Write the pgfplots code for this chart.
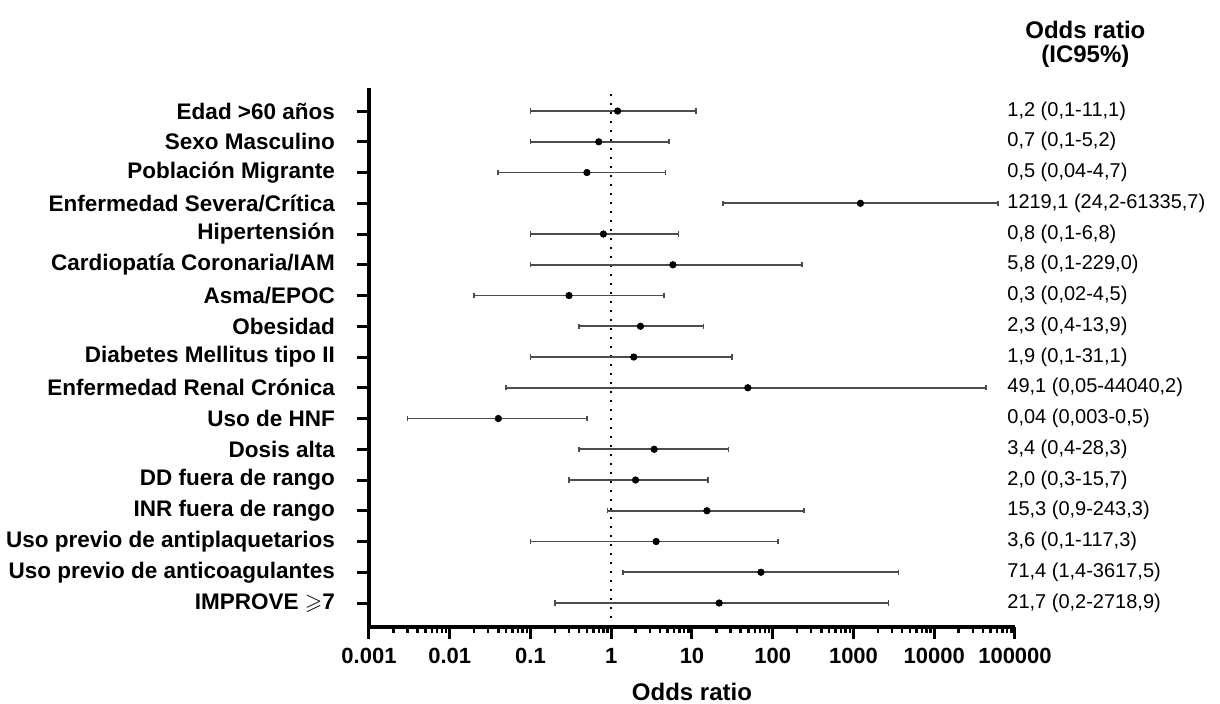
\documentclass[border=0pt]{standalone}
\usepackage{pgfplots}
\usepackage{pgfplotstable}
\usepackage{amssymb}
\usepackage{fontspec}
\setmainfont{Liberation Sans}
\pgfplotsset{compat=1.18}

% row 1 = top of the plot
\pgfplotstableread[col sep=semicolon, row sep=\\]{
row;or;lo;hi;txt\\
1;1.2;0.1;11.1;{1,2 (0,1-11,1)}\\
2;0.7;0.1;5.2;{0,7 (0,1-5,2)}\\
3;0.5;0.04;4.7;{0,5 (0,04-4,7)}\\
4;1219.1;24.2;61335.7;{1219,1 (24,2-61335,7)}\\
5;0.8;0.1;6.8;{0,8 (0,1-6,8)}\\
6;5.8;0.1;229.0;{5,8 (0,1-229,0)}\\
7;0.3;0.02;4.5;{0,3 (0,02-4,5)}\\
8;2.3;0.4;13.9;{2,3 (0,4-13,9)}\\
9;1.9;0.1;31.1;{1,9 (0,1-31,1)}\\
10;49.1;0.05;44040.2;{49,1 (0,05-44040,2)}\\
11;0.04;0.003;0.5;{0,04 (0,003-0,5)}\\
12;3.4;0.4;28.3;{3,4 (0,4-28,3)}\\
13;2.0;0.3;15.7;{2,0 (0,3-15,7)}\\
14;15.3;0.9;243.3;{15,3 (0,9-243,3)}\\
15;3.6;0.1;117.3;{3,6 (0,1-117,3)}\\
16;71.4;1.4;3617.5;{71,4 (1,4-3617,5)}\\
17;21.7;0.2;2718.9;{21,7 (0,2-2718,9)}\\
}\data

\begin{document}
\begin{tikzpicture}
\useasboundingbox (-184.5pt,-38.5pt) rectangle (425.5pt,313.5pt);
\begin{axis}[
    scale only axis,
    width=323pt,
    height=269.5pt,
    xmode=log,
    xmin=0.001, xmax=100000,
    ymin=0.22, ymax=17.75,
    xtick={0.001,0.01,0.1,1,10,100,1000,10000,100000},
    xticklabels={0.001,0.01,0.1,1,10,100,1000,10000,100000},
    ytick={1,...,17},
    yticklabels={
        IMPROVE $\geqslant$7,
        Uso previo de anticoagulantes,
        Uso previo de antiplaquetarios,
        INR fuera de rango,
        DD fuera de rango,
        Dosis alta,
        Uso de HNF,
        Enfermedad Renal Crónica,
        Diabetes Mellitus tipo II,
        Obesidad,
        Asma/EPOC,
        Cardiopatía Coronaria/IAM,
        Hipertensión,
        Enfermedad Severa/Crítica,
        Población Migrante,
        Sexo Masculino,
        Edad >60 años
    },
    axis x line*=bottom,
    axis y line*=left,
    axis line style={line width=1.6pt, -},
    tick align=outside,
    tick pos=left,
    major tick length=6pt,
    minor tick length=3pt,
    every major tick/.append style={line width=1.5pt, black},
    every minor tick/.append style={line width=1.2pt, black},
    xticklabel style={font=\bfseries\fontsize{11}{13}\selectfont, yshift=-1pt},
    yticklabel style={font=\bfseries\fontsize{11.25}{13}\selectfont, xshift=-7.5pt},
    xlabel={Odds ratio},
    xlabel style={font=\bfseries\fontsize{12}{14}\selectfont,
        at={(axis description cs:0.5,0)}, anchor=base, yshift=-37pt},
    /pgf/number format/assume math mode=true,
    clip=false,
]

% linea de referencia OR = 1
\addplot[black, line width=1pt, dash pattern=on 1pt off 3.5pt] coordinates {(1,0.22) (1,17.75)};

% OR con IC95%
\addplot[only marks, mark=*, mark size=1.6pt, black,
    error bars/.cd,
        x dir=both, x explicit,
        error bar style={line width=0.9pt, black!70},
        error mark options={line width=0.9pt, black!70, mark size=1.3pt, rotate=90},
] table[x=or, y expr=18-\thisrow{row},
        x error plus expr=\thisrow{hi}-\thisrow{or},
        x error minus expr=\thisrow{or}-\thisrow{lo}] {\data};

% columna de texto a la derecha
\addplot[draw=none, mark=none,
    nodes near coords,
    point meta=explicit symbolic,
    nodes near coords style={anchor=west, inner sep=0pt, text=black,
        font=\fontsize{10}{12}\selectfont},
] table[x expr=79600, y expr=18-\thisrow{row}, meta=txt] {\data};

\node[align=center, font=\bfseries\fontsize{12}{12}\selectfont]
    at (rel axis cs:1.109,1) [yshift=22pt] {Odds ratio\\(IC95\%)};
\end{axis}
\end{tikzpicture}
\end{document}
